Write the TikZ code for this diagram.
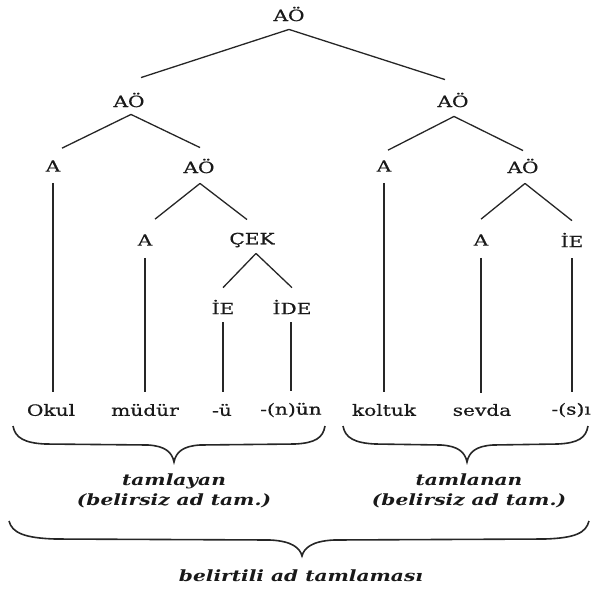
\documentclass[tikz,border=0pt]{standalone}
\usepackage{fontspec}
\setmainfont{DejaVu Serif}[FakeStretch=1.3,UprightFeatures={FakeBold=0.6}]
\usetikzlibrary{calc}
\begin{document}
\begin{tikzpicture}[x=1pt,y=-1pt,
  lbl/.style={inner sep=0pt,font=\fontsize{15.5}{18}\selectfont,text=black!90},
  captxt/.style={inner sep=0pt,align=center,font=\fontsize{15.5}{20}\selectfont\bfseries\itshape,text=black!90},
  branch/.style={line width=1.3pt,black!85},
  brc/.style={line width=1.6pt,black!85}]
\useasboundingbox (0,0) rectangle (592,590);
% tree nodes
\node[lbl] (top) at (289,14) {AÖ};
\node[lbl] (L) at (129,100) {AÖ};
\node[lbl] (R) at (453,100) {AÖ};
\node[lbl] (LA) at (53,166) {A};
\node[lbl] (LAO) at (199,166) {AÖ};
\node[lbl] (RA) at (384,166) {A};
\node[lbl] (RAO) at (523,166) {AÖ};
\node[lbl] (MA) at (145,240) {A};
\node[lbl] (CEK) at (252,240) {ÇEK};
\node[lbl] (RA2) at (481,240) {A};
\node[lbl] (RIE) at (572,240) {İE};
\node[lbl] (IE) at (223,307) {İE};
\node[lbl] (IDE) at (292,307) {İDE};
% leaves
\node[lbl] (w1) at (51,410) {Okul};
\node[lbl] (w2) at (145,410) {müdür};
\node[lbl] (w3) at (222,410) {-ü};
\node[lbl] (w4) at (291,410) {-(n)ün};
\node[lbl] (w5) at (384,410) {koltuk};
\node[lbl] (w6) at (482,410) {sevda};
\node[lbl,anchor=east] (w7) at (591,410) {-(s)ı};
% edges
\draw[branch] ($(top.south)+(0,8)$) -- ($(L.north)+(12,-15)$);
\draw[branch] ($(top.south)+(0,8)$) -- ($(R.north)+(-8,-13)$);
\draw[branch] ($(L.south)+(2,7)$) -- ($(LA.north)+(9,-12)$);
\draw[branch] ($(L.south)+(2,7)$) -- ($(LAO.north)+(1,-11)$);
\draw[branch] ($(R.south)+(1,9)$) -- ($(RA.north)+(4,-10)$);
\draw[branch] ($(R.south)+(1,9)$) -- ($(RAO.north)+(0,-8)$);
\draw[branch] ($(LA.south)+(0,11)$) -- ($(w1.north -| LA.south)+(0,-12)$);
\draw[branch] ($(LAO.south)+(1,10)$) -- ($(MA.north)+(10,-15)$);
\draw[branch] ($(LAO.south)+(1,10)$) -- ($(CEK.north)+(-5,-13)$);
\draw[branch] ($(RA.south)+(0,11)$) -- ($(w5.north -| RA.south)+(0,-12)$);
\draw[branch] ($(RAO.south)+(2,10)$) -- ($(RA2.north)+(0,-15)$);
\draw[branch] ($(RAO.south)+(2,10)$) -- ($(RIE.north)+(0,-12)$);
\draw[branch] ($(MA.south)+(0,12)$) -- ($(w2.north -| MA.south)+(0,-12)$);
\draw[branch] ($(CEK.south)+(4,6)$) -- ($(IE.north)+(0,-12)$);
\draw[branch] ($(CEK.south)+(4,6)$) -- ($(IDE.north)+(0,-12)$);
\draw[branch] ($(IE.south)+(0,8)$) -- ($(w3.north -| IE.south)+(0,-12)$);
\draw[branch] ($(IDE.south)+(-1,8)$) -- ($(w4.north -| IDE.south)+(-1,-12)$);
\draw[branch] ($(RA2.south)+(0,12)$) -- ($(w6.north -| RA2.south)+(0,-11)$);
\draw[branch] ($(RIE.south)+(0,11)$) -- ($(w7.north -| RIE.south)+(0,-11)$);
% braces
\draw[brc] (13,426) .. controls (15,438) and (25,443) .. (45,444) -- (148,445)
  .. controls (165,446) and (172,452) .. (174,462)
  .. controls (176,452) and (183,446) .. (200,445) -- (295,444)
  .. controls (315,443) and (323,438) .. (325,426);
\draw[brc] (343,426) .. controls (345,438) and (355,443) .. (375,444) -- (441,445)
  .. controls (458,446) and (465,452) .. (467,462)
  .. controls (469,452) and (476,446) .. (493,445) -- (558,444)
  .. controls (578,443) and (586,438) .. (588,426);
\draw[brc] (9,521) .. controls (12,533) and (25,538) .. (55,539) -- (270,540)
  .. controls (292,541) and (300,548) .. (302,556)
  .. controls (304,548) and (312,541) .. (334,540) -- (545,539)
  .. controls (575,538) and (586,533) .. (589,521);
% captions
\node[captxt] (c1) at (174,491) {tamlayan\\(belirsiz ad tam.)};
\node[captxt] (c2) at (469,491) {tamlanan\\(belirsiz ad tam.)};
\node[captxt] (c3) at (301,576) {belirtili ad tamlaması};
\end{tikzpicture}
\end{document}
